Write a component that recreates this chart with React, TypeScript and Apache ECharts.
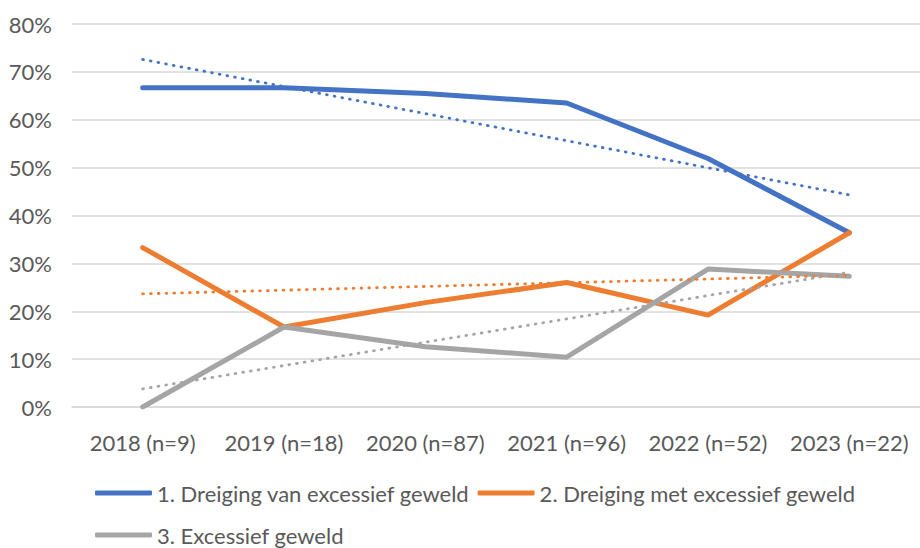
import React, { useEffect, useRef } from "react";
import * as echarts from "echarts";

const categories = [
  "2018 (n=9)",
  "2019 (n=18)",
  "2020 (n=87)",
  "2021 (n=96)",
  "2022 (n=52)",
  "2023 (n=22)",
];
const seriesNames = [
  "1. Dreiging van excessief geweld",
  "2. Dreiging met excessief geweld",
  "3. Excessief geweld",
];
const dreigingVan = [66.7, 66.7, 65.5, 63.5, 51.9, 36.4];
const dreigingMet = [33.3, 16.7, 21.8, 26.0, 19.2, 36.4];
const excessief = [0, 16.7, 12.6, 10.4, 28.8, 27.3];
const colors = ["#4472C4", "#ED7D31", "#A5A5A5"];

// Linear trendline (least squares), as in the original spreadsheet chart
function trend(values: number[]): number[] {
  const n = values.length;
  const mx = (n - 1) / 2;
  const my = values.reduce((a, b) => a + b, 0) / n;
  let sxy = 0;
  let sxx = 0;
  values.forEach((v, i) => {
    sxy += (i - mx) * (v - my);
    sxx += (i - mx) * (i - mx);
  });
  const slope = sxy / sxx;
  return values.map((_, i) => +(my + slope * (i - mx)).toFixed(2));
}

const FONT = "Lato, 'Open Sans', sans-serif";
const FS = 22;

export default function App() {
  const ref = useRef<HTMLDivElement>(null);
  useEffect(() => {
    if (!ref.current) return;
    const chart = echarts.init(ref.current, null, { renderer: "svg" });
    const data = [dreigingVan, dreigingMet, excessief];
    const mainSeries = data.map((d, i) => ({
      name: seriesNames[i],
      type: "line",
      data: d,
      symbol: "none",
      color: colors[i],
      lineStyle: { width: 5, color: colors[i], cap: "round", join: "round" },
      z: 2,
    }));
    const trendSeries = data.map((d, i) => ({
      name: "trend " + (i + 1),
      type: "line",
      data: trend(d),
      symbol: "none",
      silent: true,
      lineStyle: {
        width: 2.8,
        color: colors[i],
        type: [0.8, 7],
        cap: "round",
      },
      z: 3,
    }));
    const legendCommon = {
      icon: "roundRect",
      itemWidth: 57,
      itemHeight: 5,
      itemGap: 8,
      left: 95,
      padding: 0,
      textStyle: { color: "#595959", fontSize: FS, fontFamily: FONT },
    };
    chart.setOption({
      animation: false,
      grid: { left: 72, top: 24, width: 854, height: 383, containLabel: false },
      legend: [
        { ...legendCommon, top: 482, data: [seriesNames[0], seriesNames[1]] },
        { ...legendCommon, top: 524, data: [seriesNames[2]] },
      ],
      xAxis: {
        type: "category",
        data: categories,
        boundaryGap: true,
        axisLine: { show: true, lineStyle: { color: "#D9D9D9", width: 1.5 } },
        axisTick: { show: false },
        axisLabel: {
          color: "#595959",
          fontSize: FS,
          fontFamily: FONT,
          margin: 24,
          interval: 0,
        },
      },
      yAxis: {
        type: "value",
        min: 0,
        max: 80,
        interval: 10,
        axisLine: { show: false },
        axisTick: { show: false },
        splitLine: { lineStyle: { color: "#D9D9D9", width: 1.5 } },
        axisLabel: {
          color: "#595959",
          fontSize: FS,
          fontFamily: FONT,
          margin: 20,
          formatter: "{value}%",
        },
      },
      series: [...mainSeries, ...trendSeries],
    });
    return () => chart.dispose();
  }, []);
  return (
    <div
      ref={ref}
      style={{ position: "fixed", left: 0, top: 0, width: 920, height: 548, background: "#fff" }}
    />
  );
}
